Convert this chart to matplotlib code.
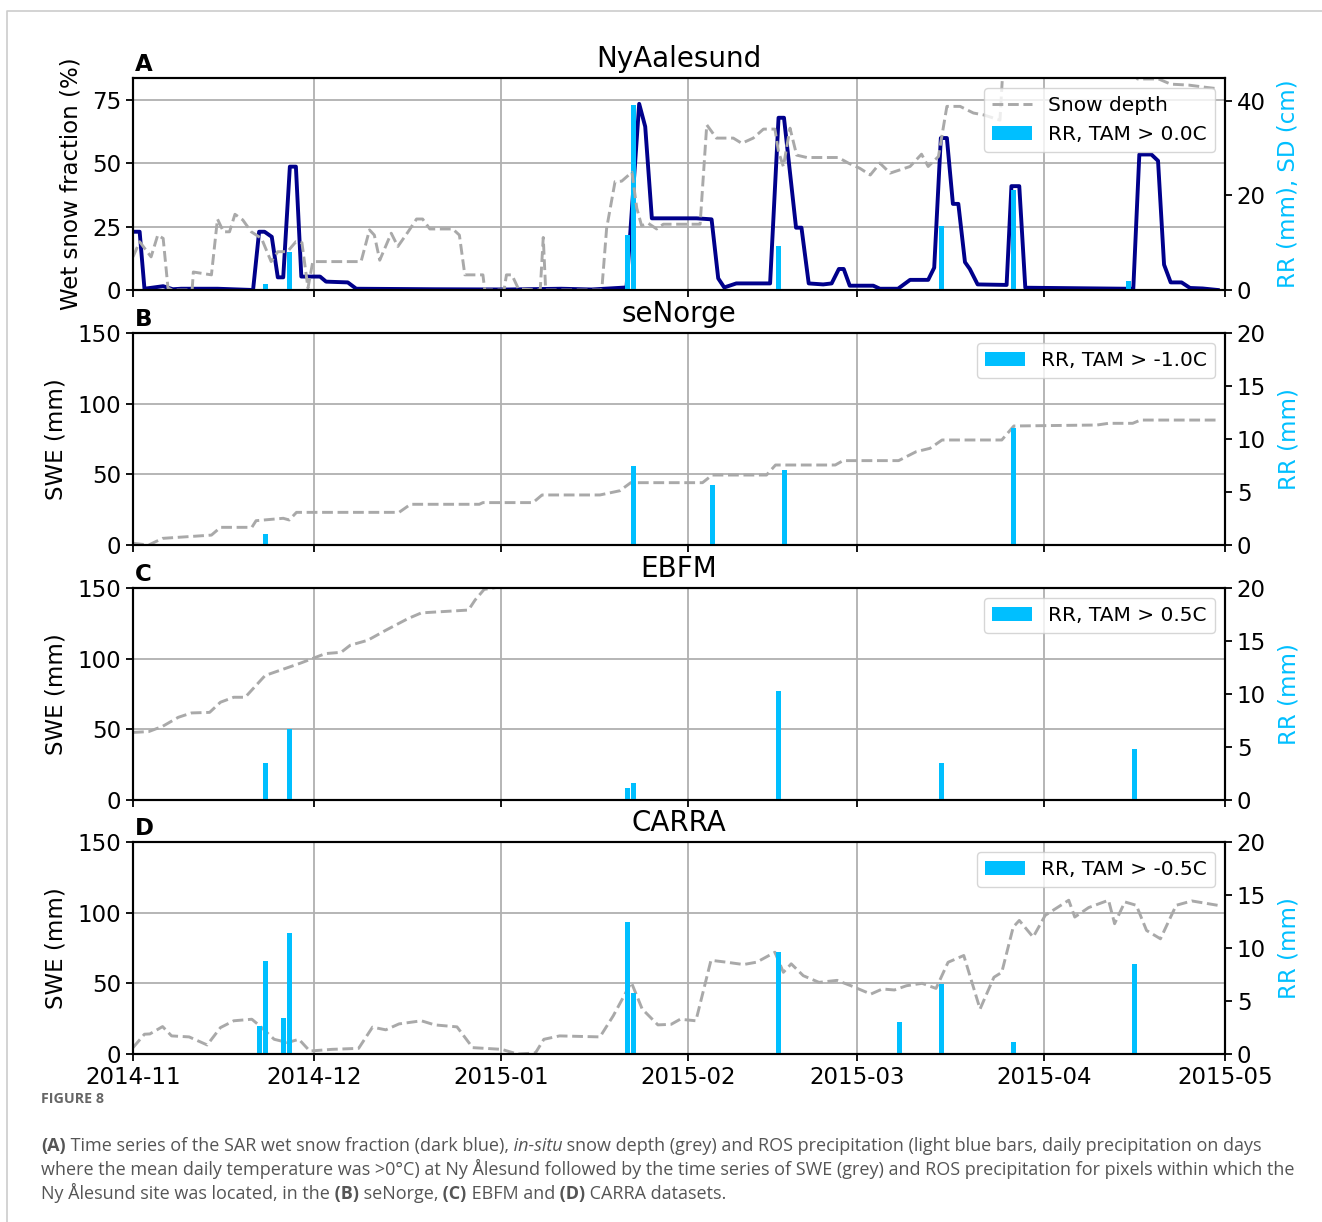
import numpy as np
import pandas as pd
import matplotlib
matplotlib.use('Agg')
import matplotlib.pyplot as plt
import matplotlib.dates as mdates
from matplotlib.lines import Line2D

# ---- data (days after 2014-11-01) ----
start = pd.Timestamp('2014-11-01')

# A: Ny Aalesund
wsf_day = [0, 1.1, 1.9, 5, 6.6, 8, 14, 19.9, 20.9, 21.8, 23, 24, 24.9, 26, 27, 27.9, 31, 32,
           35.6, 37, 50, 62, 71, 76, 81.8, 83.9, 84.9, 86, 93.4, 95.9, 97, 98, 100, 105.6,
           107, 107.9, 109.9, 110.8, 112, 114.4, 115.8, 117, 117.8, 118.8, 122.7, 123.8,
           126.8, 128.8, 131.8, 132.8, 133.9, 134.9, 135.9, 136.8, 137.9, 138.7, 140, 144.8,
           145.6, 146.9, 147.9, 164.7, 165.8, 166.8, 168.8, 169.9, 170.9, 172, 173.8, 175.2,
           177.3, 179.8]
wsf_val = [23, 23, 0.5, 1.5, 0.3, 0.5, 0.5, 0, 23, 23, 21, 5, 5, 48.7, 48.7, 5.3, 5.3, 3.3,
           3, 0.5, 0.3, 0.2, 0.5, 0.2, 1, 73.5, 64.5, 28.3, 28.3, 27.9, 4.6, 1, 2.6, 2.6,
           68, 68, 24.6, 24.6, 2.6, 2.2, 2.6, 8.3, 8.3, 1.7, 1.7, 0.5,
           0.5, 4, 4, 8.8, 60, 60, 34, 34, 11, 8.3, 2.2, 2,
           41, 41, 0.9, 0.5, 0.5, 53.5, 53.5, 51, 10, 3, 3, 0.8,
           0.6, 0]

sd_day = [0, 1.1, 3, 4.1, 5, 5.8, 6.5, 9.8, 10, 13, 14, 15, 16, 16.9, 18.2, 19.6, 21.3, 22.9,
          24, 25.6, 27, 28, 29, 29.8, 37.8, 39.2, 40, 40.9, 42.8, 43.9, 45.6, 47, 48, 49.2,
          53, 54.1, 55, 58, 58.3, 61.5, 61.9, 62.8, 63.9, 67.5, 68, 68.4, 77.7, 78.5, 79.9,
          81, 82.7, 83.5, 84.3, 85.4, 86.8, 87.9, 94, 95.1, 96.7, 99.5, 100.9, 102.8, 104.5,
          106.4, 107, 107.8, 108.9, 110, 111.7, 116.9, 118.6, 120.5, 122.2, 123.8, 125.5,
          128.8, 130.7, 131.8, 133.5, 134.9, 137.1, 139.3, 141, 143.7, 144.2, 165, 166.5,
          170, 172, 175, 178, 180]
sd_val = [7, 10.2, 7, 11.6, 10.9, 0.4, 0, 0, 3.8, 3.2, 15, 12.3, 12.3, 16, 14.8, 12.3, 10.9, 6,
          8.1, 8.1, 10.2, 10, 0.4, 6, 6, 12.7, 11.6, 6.3, 12, 9.2, 12.3, 15, 15, 12.9,
          12.9, 11.6, 3.2, 3.2, 0, 0, 3.2, 3.2, 0.2, 0, 11.1, 0, 0, 13, 22.9,
          23, 24.9, 17.3, 13.6, 14.1, 12.9, 13.9, 13.9, 34.9, 32.1, 32.1, 31, 32.1, 34,
          34, 29.2, 26.1, 34.2, 28.5, 28, 28, 26.8, 25.7, 24.3, 26.8, 24.7,
          26.1, 28.7, 26.1, 28.2, 38.8, 38.8, 37.4, 37, 35.9, 47, 47, 44.6,
          44.6, 43.5, 43.3, 42.8, 42.5]

rr_a_day = [22, 26, 82, 83, 107, 134, 146, 165]
rr_a_val = [1.2, 8.0, 11.6, 39.0, 9.4, 13.6, 21.1, 1.9]

# B: seNorge
seno_day = [0, 2.6, 4.9, 13, 14.5, 19.7, 20.4, 24.9, 25.9, 27.1, 44.1, 46, 57.4, 58, 66.3,
            67.8, 77.4, 80.7, 82.5, 94.4, 96, 105, 106.5, 116.4, 117.7, 126.9, 129.8, 132.1,
            134.1, 144, 146, 159.8, 161.7, 165.7, 167, 180]
seno_swe = [1.2, 0, 4.7, 7, 12.5, 12.5, 17.2, 18.9, 17.7, 23.1, 23.1, 28.8, 28.8, 30, 30,
            35.4, 35.4, 38.4, 44.1, 44.1, 49.5, 49.5, 56.6, 56.6, 59.7, 59.7, 66, 68.4,
            74.3, 74.3, 84.2, 84.9, 86.1, 86.1, 88.4, 88.4]
seno_rr_day = [22, 83, 96, 108, 146]
seno_rr_val = [1.0, 7.5, 5.7, 7.1, 11.0]

# C: EBFM
ebfm_day = [0, 2.6, 4.9, 7.5, 9.7, 12.7, 14.5, 16.7, 18.6, 21.9, 25.6, 27.8, 30, 31.9, 34.5,
            36, 38.9, 41.9, 45.6, 47.8, 55.6, 56.7, 58.2, 61.1, 75, 100, 140, 180]
ebfm_swe = [47.8, 48.4, 52.1, 58.5, 61.6, 62, 69.2, 72.7, 72.7, 88.1, 93.6, 96.9, 100.5, 103.6,
            104.5, 109.5, 113, 120.1, 128.4, 132.4, 134.4, 141.5, 149, 151, 160, 175, 200, 215]
ebfm_rr_day = [22, 26, 82, 83, 107, 134, 166]
ebfm_rr_val = [3.5, 6.7, 1.1, 1.6, 10.3, 3.5, 4.8]

# D: CARRA
carra_day = [0, 1.9, 2.8, 4.9, 6.4, 9.3, 12.3, 14.5, 16.7, 19.7, 21.2, 23.4, 25.6, 27.5, 29.3,
             33, 37.4, 39.7, 41.9, 44.1, 47.8, 50, 53.7, 56.3, 61.1, 63.7, 66.7, 68.1, 70.7,
             77.4, 79.6, 82.6, 84.4, 87, 89.2, 90.7, 93.3, 95.8, 98.3, 101.2, 103.4, 106.4,
             107.8, 109.1, 111.1, 113.7, 116.7, 119, 122.3, 124.2, 126.2, 128.2, 130.8, 133.1,
             135.1, 137.7, 140.4, 142.7, 144, 145.9, 146.9, 149.2, 151.2, 153.2, 155.1, 156.1,
             158.4, 161.7, 162.7, 164.4, 166.3, 168, 170.3, 172.9, 175.5, 179.8]
carra_swe = [4.5, 14, 14.2, 19.4, 12.8, 12.1, 6.4, 18.7, 23.5, 24.6, 19.2, 10.4, 8.1, 10.4, 2.1,
             3.3, 4, 19, 17.1, 21.3, 23.5, 20.6, 19.2, 4.5, 3.3, 0, 0.7, 10.4, 12.8,
             12.1, 27, 50.7, 31.8, 20.6, 21, 24.6, 23.5, 66.3, 65, 63.3, 65, 72,
             57.8, 63.8, 55.4, 50.7, 52.1, 48.3, 42.4, 46, 45.3, 48.3, 50, 46.4,
             64.9, 69.7, 31.8, 54.3, 57.8, 89.8, 94.5, 82.7, 98.1, 103.6, 108.8, 96.9,
             103.6, 108.8, 92.2, 107.6, 105.2, 87.4, 81.5, 105.2, 108.3, 105.2]
carra_rr_day = [21, 22, 25, 26, 82, 83, 107, 127, 134, 146, 166]
carra_rr_val = [2.6, 8.8, 3.4, 11.4, 12.5, 5.75, 9.6, 3.0, 6.6, 1.1, 8.5]

titles = ['NyAalesund', 'seNorge', 'EBFM', 'CARRA']
letters = ['A', 'B', 'C', 'D']
thresholds = ['0.0', '-1.0', '0.5', '-0.5']


def to_dates(days):
    return start + pd.to_timedelta(np.asarray(days, dtype=float), unit='D')


plt.rcParams.update({
    'font.family': 'DejaVu Sans',
    'axes.linewidth': 1.5,
    'xtick.major.size': 5, 'ytick.major.size': 5,
    'xtick.major.width': 1.3, 'ytick.major.width': 1.3,
    'grid.color': '#b0b0b0', 'grid.linewidth': 1.3,
})

FS = 16.5
W_PX, H_PX = 1322, 1222
fig = plt.figure(figsize=(W_PX / 100, H_PX / 100), dpi=100)

# light card border
fig.add_artist(Line2D([7 / W_PX, 7 / W_PX, 1], [0, 1 - 11 / H_PX, 1 - 11 / H_PX],
                      transform=fig.transFigure, color='#cccccc', lw=1.2))

tops = [78, 333, 588, 842]
left, width, height = 133, 1092, 212
axes = []
for i, t in enumerate(tops):
    rect = [left / W_PX, 1 - (t + height) / H_PX, width / W_PX, height / H_PX]
    ax = fig.add_axes(rect, sharex=axes[0] if axes else None)
    axes.append(ax)

bar_col = 'deepskyblue'
dash_col = 'darkgrey'

for i, ax in enumerate(axes):
    ax2 = ax.twinx()
    ax.grid(True)
    ax.set_axisbelow(True)
    if i == 0:
        ax.plot(to_dates(wsf_day), wsf_val, color='darkblue', lw=2.8)
        ax2.plot(to_dates(sd_day), sd_val, color=dash_col, ls='--', lw=2.1, label='Snow depth')
        ax2.bar(to_dates(rr_a_day), rr_a_val, width=0.8, color=bar_col,
                label='RR, TAM > %sC' % thresholds[0])
        ax.set_ylim(0, 83.7)
        ax.set_yticks([0, 25, 50, 75])
        ax2.set_ylim(0, 44.8)
        ax2.set_yticks([0, 20, 40])
        ax.set_ylabel('Wet snow fraction (%)', fontsize=FS, labelpad=7)
        ax2.set_ylabel('RR (mm), SD (cm)', fontsize=FS, color=bar_col, labelpad=8)
    else:
        sets = [(seno_day, seno_swe, seno_rr_day, seno_rr_val),
                (ebfm_day, ebfm_swe, ebfm_rr_day, ebfm_rr_val),
                (carra_day, carra_swe, carra_rr_day, carra_rr_val)][i - 1]
        ax.plot(to_dates(sets[0]), sets[1], color=dash_col, ls='--', lw=2.1)
        ax2.bar(to_dates(sets[2]), sets[3], width=0.8, color=bar_col,
                label='RR, TAM > %sC' % thresholds[i])
        ax.set_ylim(0, 150)
        ax.set_yticks([0, 50, 100, 150])
        ax2.set_ylim(0, 20)
        ax2.set_yticks([0, 5, 10, 15, 20])
        ax.set_ylabel('SWE (mm)', fontsize=FS, labelpad=7)
        ax2.set_ylabel('RR (mm)', fontsize=FS, color=bar_col, labelpad=8)
    ax2.legend(loc='upper right', fontsize=14.5)
    ax.set_title(titles[i], fontsize=20, pad=8)
    ax.text(0.002, 1.035, letters[i], transform=ax.transAxes, fontsize=FS,
            fontweight='bold', va='baseline')
    ax.tick_params(labelsize=FS)
    ax2.tick_params(labelsize=FS)
    if i < 3:
        ax.tick_params(labelbottom=False)

axes[0].set_xlim(pd.Timestamp('2014-11-01'), pd.Timestamp('2015-05-01'))
axes[0].xaxis.set_major_locator(mdates.MonthLocator())
axes[0].xaxis.set_major_formatter(mdates.DateFormatter('%Y-%m'))

# ---- caption ----
cap_font = 'Open Sans'
cap_col = '#555555'
fig.text(41 / W_PX, 1 - 1103 / H_PX, 'FIGURE 8', fontsize=10.3, fontweight='bold',
         family=cap_font, color='#666666', va='baseline')

renderer = fig.canvas.get_renderer()


def rich_line(x_px, y_px, parts, size=12.95):
    x = x_px / W_PX
    for s, w, st in parts:
        t = fig.text(x, 1 - y_px / H_PX, s, fontsize=size, fontweight=w, fontstyle=st,
                     family=cap_font, color=cap_col, va='baseline')
        x += t.get_window_extent(renderer).width / W_PX


N, B, I = 'normal', 'bold', 'italic'
rich_line(41, 1151, [('(A)', B, N),
                     (' Time series of the SAR wet snow fraction (dark blue),', N, N),
                     (' in-situ', N, I),
                     (' snow depth (grey) and ROS precipitation (light blue bars, daily '
                      'precipitation on days', N, N)])
rich_line(41, 1175, [('where the mean daily temperature was >0°C) at Ny Ålesund followed by the '
                      'time series of SWE (grey) and ROS precipitation for pixels within which the',
                      N, N)])
rich_line(41, 1199, [('Ny Ålesund site was located, in the', N, N), (' (B)', B, N),
                     (' seNorge,', N, N), (' (C)', B, N), (' EBFM and', N, N),
                     (' (D)', B, N), (' CARRA datasets.', N, N)])

fig.savefig('out.png', dpi=100)
